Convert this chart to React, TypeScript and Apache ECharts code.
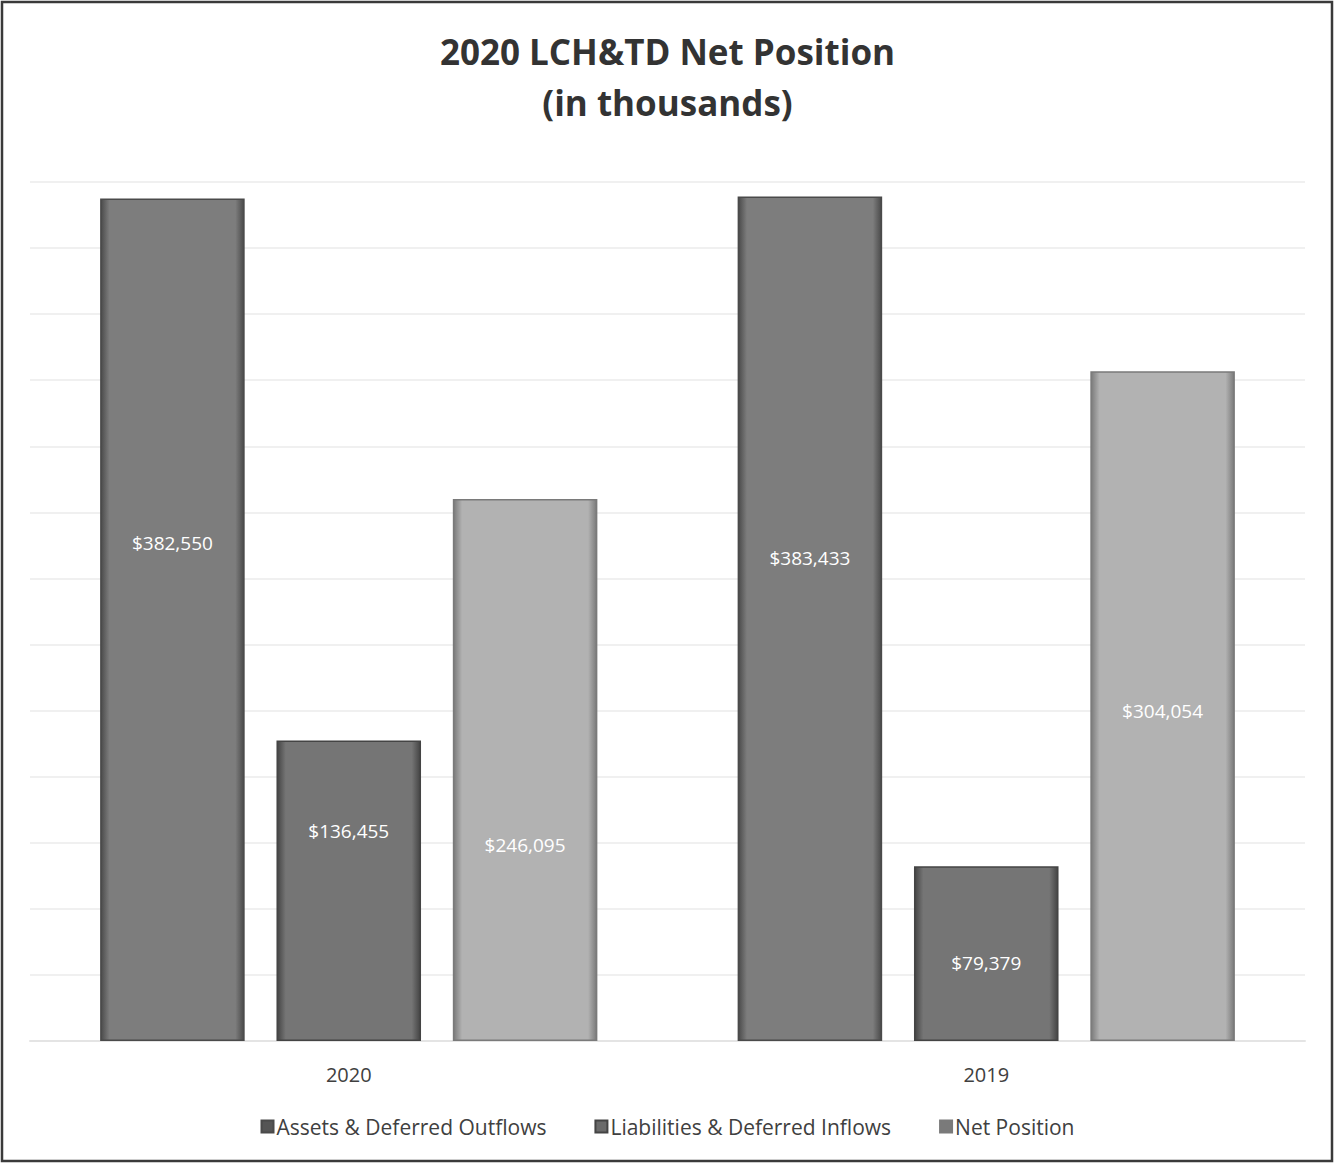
import React, { useEffect, useRef } from "react";
import * as echarts from "echarts";

const categories = ["2020", "2019"];
const assets = [382550, 383433];
const liabilities = [136455, 79379];
const netPosition = [246095, 304054];
const assetsLabelOffsets = [-77, -61];
const liabilitiesLabelOffsets = [-60, 9];
const netLabelOffsets = [75, 5];
const seriesNames = ["Assets & Deferred Outflows", "Liabilities & Deferred Inflows", "Net Position"];

const fmt = (v: number) => "$" + v.toLocaleString("en-US");

function barColor(mid: string, edge: string) {
  return new echarts.graphic.LinearGradient(0, 0, 1, 0, [
    { offset: 0, color: edge },
    { offset: 0.06, color: mid },
    { offset: 0.94, color: mid },
    { offset: 1, color: edge },
  ]);
}

export default function App() {
  const ref = useRef<HTMLDivElement>(null);
  useEffect(() => {
    const chart = echarts.init(ref.current!, null, { renderer: "svg" });
    const font = "'Open Sans', 'Noto Sans', sans-serif";
    const mk = (name: string, values: number[], offsets: number[], mid: string, edge: string) => ({
      name,
      type: "bar",
      data: values.map((v, i) => ({
        value: v,
        label: { offset: [0, offsets[i]] },
      })),
      itemStyle: { color: barColor(mid, edge), borderColor: edge, borderWidth: 1.5 },
      label: {
        show: true,
        position: "inside",
        color: "#ffffff",
        fontSize: 19,
        fontFamily: font,
        formatter: (p: any) => fmt(p.value),
      },
      barGap: "22%",
      barCategoryGap: "22%",
    });
    chart.setOption({
      animation: false,
      backgroundColor: "#ffffff",
      title: {
        text: "2020 LCH&TD Net Position\n(in thousands)",
        left: "center",
        top: 21,
        textStyle: {
          fontFamily: font,
          fontWeight: "bold",
          fontSize: 35,
          lineHeight: 51,
          color: "#333333",
        },
      },
      legend: {
        bottom: 22,
        left: "center",
        itemWidth: 12,
        itemHeight: 12,
        itemGap: 48,
        icon: "rect",
        textStyle: { fontFamily: font, fontSize: 21, color: "#404040", padding: [0, 0, 0, -2] },
        data: [
          { name: seriesNames[0], itemStyle: { color: "#555555" } },
          { name: seriesNames[1], itemStyle: { color: "#6a6a6a" } },
          { name: seriesNames[2], itemStyle: { color: "#7a7a7a" } },
        ],
      },
      grid: { left: 30, right: 30, top: 182, bottom: 123, containLabel: false },
      xAxis: {
        type: "category",
        data: categories,
        axisLine: { show: true, lineStyle: { color: "#e4e4e4", width: 2 } },
        axisTick: { show: false },
        axisLabel: { fontFamily: font, fontSize: 20, color: "#404040", margin: 23 },
      },
      yAxis: {
        type: "value",
        min: 0,
        max: 390000,
        interval: 30000,
        axisLabel: { show: false },
        axisLine: { show: false },
        axisTick: { show: false },
        splitLine: { lineStyle: { color: "#ebebeb", width: 1.5 } },
      },
      graphic: [
        {
          type: "rect",
          shape: { x: 2, y: 2, width: 1330, height: 1159 },
          style: { fill: "none", stroke: "#3a3a3a", lineWidth: 2.5 },
          silent: true,
        },
      ],
      series: [
        mk(seriesNames[0], assets, assetsLabelOffsets, "#7d7d7d", "#4a4a4a"),
        mk(seriesNames[1], liabilities, liabilitiesLabelOffsets, "#757575", "#444444"),
        mk(seriesNames[2], netPosition, netLabelOffsets, "#b2b2b2", "#7a7a7a"),
      ],
    });
    return () => chart.dispose();
  }, []);
  return (
    <div
      ref={ref}
      style={{ position: "absolute", left: 0, top: 0, width: 1335, height: 1164 }}
    />
  );
}
